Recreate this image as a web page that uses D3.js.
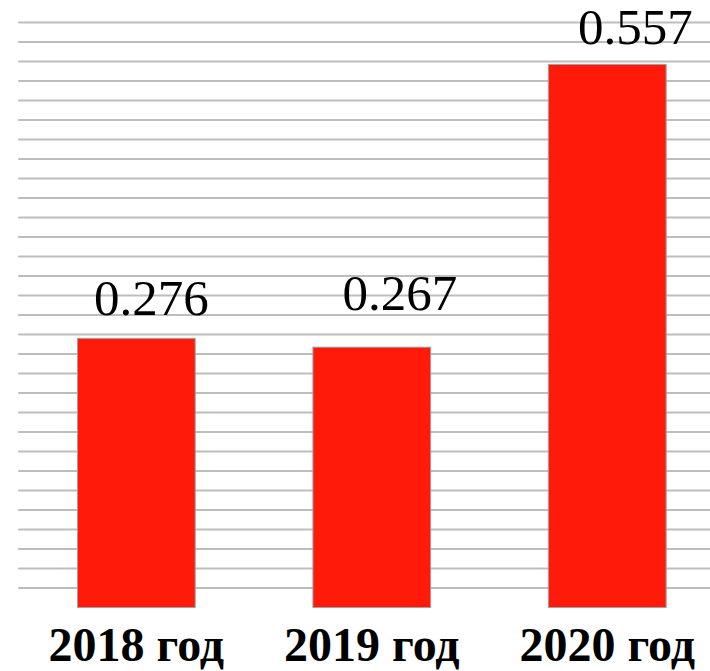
<!DOCTYPE html>
<html>
<head>
<meta charset="utf-8">
<script src="https://cdn.jsdelivr.net/npm/d3@7"></script>
<style>
  body { margin: 0; background: #fff; }
</style>
</head>
<body>
<div id="bar-chart"></div>
<script>
// Data
const categories = ["2018 год", "2019 год", "2020 год"];
const values = [0.276, 0.267, 0.557];
const valueLabels = ["0.276", "0.267", "0.557"];
const gridTicks = d3.range(1, 31).map((i) => i * 0.02);

// Dimensions
var width = 710;
var height = 671;

// Small label nudges
var labelDx = [15, 28, 28];
var labelGap = [23, 37, 20];

var svg = d3
  .select("#bar-chart")
  .append("svg")
  .attr("width", width)
  .attr("height", height);

var x = d3
  .scaleBand()
  .domain(categories)
  .range([18.6, 725])
  .paddingInner(0.5)
  .paddingOuter(0.25);

var y = d3.scaleLinear().domain([0, 0.6]).range([607.5, 22.5]);

// Horizontal grid lines
svg
  .append("g")
  .selectAll("line")
  .data(gridTicks)
  .enter()
  .append("line")
  .attr("x1", 19)
  .attr("x2", width + 5)
  .attr("y1", (d) => y(d))
  .attr("y2", (d) => y(d))
  .attr("stroke", "#bdbdbd")
  .attr("stroke-width", 2)
  .attr("stroke-linecap", "round");

// Bars
svg
  .append("g")
  .selectAll("rect")
  .data(values)
  .enter()
  .append("rect")
  .attr("x", (d, i) => x(categories[i]))
  .attr("y", (d) => y(d))
  .attr("width", x.bandwidth())
  .attr("height", (d) => y(0) - y(d))
  .attr("fill", "#ff1a0a")
  .attr("stroke", "#a0a0a0")
  .attr("stroke-width", 1);

// Value labels
svg
  .append("g")
  .selectAll("text")
  .data(values)
  .enter()
  .append("text")
  .attr("x", (d, i) => x(categories[i]) + x.bandwidth() / 2 + labelDx[i])
  .attr("y", (d, i) => y(d) - labelGap[i])
  .attr("text-anchor", "middle")
  .style("font-family", "'Liberation Serif', 'Times New Roman', serif")
  .style("font-size", "51px")
  .style("fill", "#000")
  .text((d, i) => valueLabels[i]);

// Category labels (pulled up a little so the descender stays inside)
svg
  .append("g")
  .selectAll("text")
  .data(categories)
  .enter()
  .append("text")
  .attr("x", (d) => x(d) + x.bandwidth() / 2)
  .attr("y", 661)
  .attr("text-anchor", "middle")
  .style("font-family", "'Liberation Serif', 'Times New Roman', serif")
  .style("font-weight", "bold")
  .style("font-size", "48px")
  .style("fill", "#000")
  .text((d) => d);
</script>
</body>
</html>
